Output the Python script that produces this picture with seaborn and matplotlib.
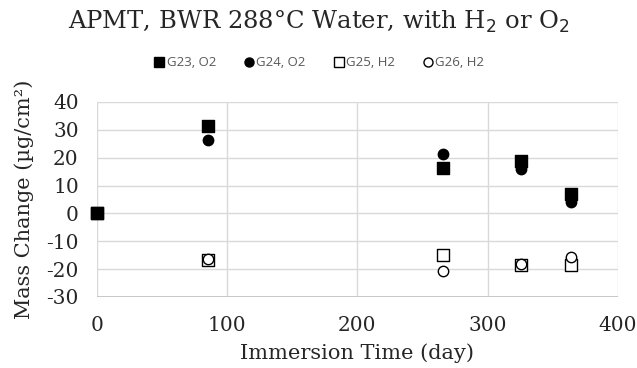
import numpy as np
import pandas as pd
import matplotlib
matplotlib.use("Agg")
import matplotlib.pyplot as plt
import seaborn as sns
from matplotlib.lines import Line2D

days = [0, 85, 266, 326, 364]
g23 = [0, 31.5, 16.2, 18.7, 7.1]
g24 = [0, 26.5, 21.2, 15.8, 4.2]
g25 = [0, -16.8, -15.0, -18.4, -18.5]
g26 = [0, -16.2, -20.6, -18.0, -15.8]

names = ["G23, O2", "G24, O2", "G25, H2", "G26, H2"]
series = [g23, g24, g25, g26]
markers = ["s", "o", "s", "o"]
filled = [True, True, False, False]

df = pd.DataFrame({
    "day": days * 4,
    "mass": sum(series, []),
    "sample": sum([[n] * len(days) for n in names], []),
})

sns.set_style("white")
plt.rcParams["axes.unicode_minus"] = False
fig = plt.figure(figsize=(6.37, 3.68), dpi=100)
ax = fig.add_axes([0.152, 0.193, 0.818, 0.530])

# open markers first, then circles, square last so it covers day 0
order = [2, 3, 1, 0]
for i in order:
    sub = df[df["sample"] == names[i]]
    fc = "black" if filled[i] else "white"
    sz = 64 if markers[i] == "s" else 56
    sns.scatterplot(data=sub, x="day", y="mass", marker=markers[i], s=sz,
                    color=fc, edgecolor="black", linewidth=1.0,
                    ax=ax, legend=False, zorder=3, clip_on=False)

ax.set_xlim(0, 400)
ax.set_ylim(-30, 40)
ax.set_xticks(np.arange(0, 401, 100))
ax.set_yticks(np.arange(-30, 41, 10))
ax.grid(True, color="#d9d9d9", linewidth=1)
ax.set_axisbelow(True)
for s in ax.spines.values():
    s.set_visible(False)
ax.axhline(-30, color="#bfbfbf", linewidth=1.2, zorder=1)
ax.tick_params(length=0, labelsize=14.5)
ax.tick_params(axis="y", pad=13)
ax.tick_params(axis="x", pad=14)
for lab in ax.get_xticklabels() + ax.get_yticklabels():
    lab.set_family("DejaVu Serif")
    lab.set_color("#262626")

ax.set_xlabel("Immersion Time (day)", family="DejaVu Serif", fontsize=15,
              color="#262626", labelpad=6)
ax.set_ylabel("Mass Change (µg/cm²)", family="DejaVu Serif", fontsize=15,
              color="#262626", labelpad=9)

fig.text(0.5, 0.94, "APMT, BWR 288°C Water, with H$_2$ or O$_2$",
         ha="center", va="center", family="DejaVu Serif", fontsize=17.5,
         color="#262626")

handles = [Line2D([], [], linestyle="none", marker=markers[i], markersize=6.5,
                  markerfacecolor="black" if filled[i] else "white",
                  markeredgecolor="black", markeredgewidth=1.0)
           for i in range(4)]
leg = fig.legend(handles, names, loc="center", bbox_to_anchor=(0.5, 0.829),
                 ncol=4, frameon=False, fontsize=9.5, handletextpad=0.05,
                 columnspacing=2.0, handlelength=1.0)
for t in leg.get_texts():
    t.set_color("#595959")
    t.set_family("Open Sans")

fig.savefig("out.png", dpi=100)
